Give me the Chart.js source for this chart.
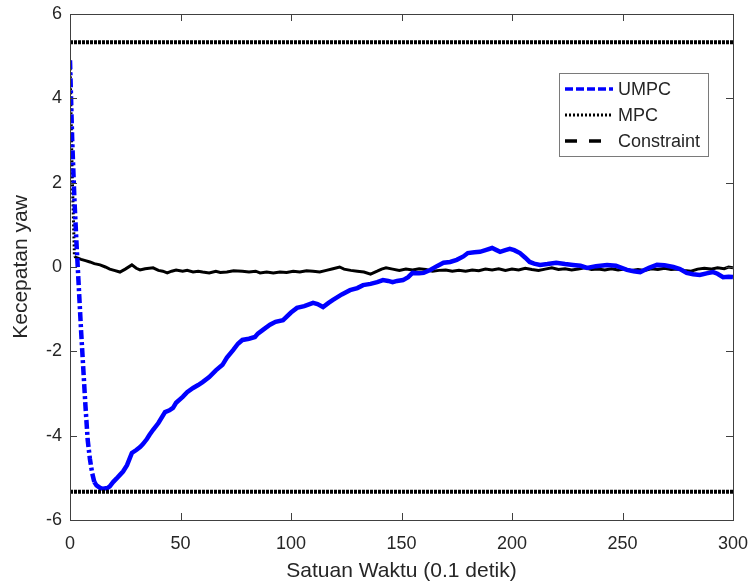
<!DOCTYPE html>
<html>
<head>
<meta charset="utf-8">
<script src="https://cdn.jsdelivr.net/npm/chart.js@4.4.0/dist/chart.umd.min.js"></script>
<style>
  html, body { margin: 0; padding: 0; background: #ffffff; }
  #wrap { width: 752px; height: 587px; }
</style>
</head>
<body>
<div id="wrap"><canvas id="yawChart" width="752" height="587"></canvas></div>
<script>
// UMPC (blue dash-dot)
var umpcX = [
  0, 1, 2, 3, 4, 5, 6, 7, 8, 9, 10, 11, 12, 13.6, 15, 17, 18, 19.5, 21, 22.6,
  24, 25.8, 28, 30, 31.7, 33, 34.8, 36, 37.6, 40, 43, 45, 46.6, 48, 51, 53,
  55.7, 58, 60, 63, 66, 69, 71, 73.8, 76, 78, 81, 83.7, 85, 87.3, 90.5, 93,
  96.4, 100, 102.7, 106, 110, 112, 114.5, 117, 119, 123, 126.7, 130, 132.6,
  136, 139, 141.6, 144, 146, 148, 150.7, 153, 155, 158, 160, 163, 166, 169,
  172, 175, 178, 180, 183, 185.5, 188, 191, 193, 194.6, 197, 199, 201, 203.6,
  206, 208, 210, 212.7, 216, 220, 224, 227.6, 231, 234, 238, 243, 247, 252,
  255, 258, 262, 265.6, 269, 273, 276, 279, 282, 285, 288, 291, 293, 295.5,
  298, 300,
];
var umpcY = [
  4.9, 3.0, 1.6, 0.5, -0.5, -1.5, -2.4, -3.3, -4.1, -4.55, -4.88, -5.1, -5.18,
  -5.24, -5.26, -5.24, -5.2, -5.1, -5.02, -4.93, -4.85, -4.7, -4.41, -4.34,
  -4.27, -4.2, -4.08, -3.98, -3.86, -3.7, -3.44, -3.4, -3.34, -3.22, -3.08,
  -2.97, -2.87, -2.8, -2.73, -2.61, -2.45, -2.32, -2.15, -1.97, -1.82, -1.73,
  -1.7, -1.66, -1.58, -1.49, -1.37, -1.3, -1.26, -1.08, -0.97, -0.93, -0.85,
  -0.88, -0.95, -0.85, -0.78, -0.65, -0.55, -0.5, -0.43, -0.4, -0.36, -0.31,
  -0.33, -0.36, -0.33, -0.31, -0.24, -0.14, -0.15, -0.14, -0.07, 0.02, 0.1,
  0.12, 0.17, 0.25, 0.33, 0.35, 0.36, 0.4, 0.45, 0.4, 0.36, 0.4, 0.43, 0.4,
  0.33, 0.22, 0.12, 0.08, 0.05, 0.07, 0.1, 0.07, 0.05, 0.03, -0.02, 0.02,
  0.05, 0.03, -0.07, -0.1, -0.12, -0.02, 0.05, 0.04, 0, -0.05, -0.14, -0.17,
  -0.19, -0.15, -0.12, -0.16, -0.24, -0.23, -0.24,
];

// MPC (black dotted)
var mpcX = [
  0, 1, 2, 3, 5, 7, 9, 11, 13.6, 16, 18, 20, 22.6, 25, 28, 30, 31.7, 34, 37.6,
  40, 42, 44, 46, 48, 51, 53, 55.7, 58, 60, 63, 66, 68, 71, 74, 78, 81, 84, 86,
  89, 92, 95, 98, 101, 104, 107, 110, 113, 116, 119, 122, 124, 127, 130, 133,
  136, 139, 141, 143, 146, 149, 152, 155, 158, 161, 164, 167, 170, 173, 176,
  179, 182, 185, 188, 191, 194, 197, 200, 203, 206, 209, 212, 215, 218, 221,
  224, 227, 230, 233, 236, 239, 242, 245, 248, 251, 254, 257, 260, 263, 266,
  269, 272, 275, 278, 281, 284, 287, 290, 293, 296, 298, 300,
];
var mpcY = [
  4.9, 2.2, 0.25, 0.22, 0.18, 0.15, 0.12, 0.08, 0.05, 0.0, -0.05, -0.08,
  -0.12, -0.05, 0.05, -0.03, -0.07, -0.04, -0.02, -0.08, -0.1, -0.14, -0.1,
  -0.07, -0.1, -0.08, -0.12, -0.1, -0.12, -0.14, -0.1, -0.13, -0.12, -0.09,
  -0.1, -0.12, -0.1, -0.14, -0.12, -0.14, -0.12, -0.13, -0.1, -0.12, -0.09,
  -0.1, -0.12, -0.08, -0.04, 0.0, -0.05, -0.08, -0.1, -0.12, -0.17, -0.1,
  -0.05, -0.02, -0.05, -0.08, -0.05, -0.07, -0.04, -0.06, -0.1, -0.08, -0.07,
  -0.1, -0.08, -0.1, -0.07, -0.09, -0.05, -0.07, -0.04, -0.08, -0.05, -0.07,
  -0.03, -0.06, -0.08, -0.05, -0.02, -0.06, -0.04, -0.07, -0.05, -0.02, -0.06,
  -0.05, -0.07, -0.04, -0.07, -0.05, -0.08, -0.06, -0.08, -0.04, -0.06, -0.03,
  -0.06, -0.05, -0.08, -0.1, -0.05, -0.03, -0.05, -0.02, -0.04, 0.0, -0.02,
];

// Constraint (upper and lower)
var constraintX = [0, 300];
var constraintUpper = [5.33, 5.33];
var constraintLower = [-5.33, -5.33];

var xTicks = [0, 50, 100, 150, 200, 250, 300];
var yTicks = [-6, -4, -2, 0, 2, 4, 6];

var legendNames = ["UMPC", "MPC", "Constraint"];

var axisColor = "#404040";
var textColor = "#262626";
var fontFamily = "'Liberation Sans', Arial, sans-serif";

function toPoints(xs, ys) {
  return xs.map(function (x, i) {
    return { x: x, y: ys[i] };
  });
}

// box + inward ticks, like matlab
const boxPlugin = {
  id: "boxTicks",
  afterDraw: function (chart) {
    var ctx = chart.ctx;
    var a = chart.chartArea;
    var xs = chart.scales.x;
    var ys = chart.scales.y;
    ctx.save();
    ctx.strokeStyle = axisColor;
    ctx.lineWidth = 1;
    ctx.strokeRect(a.left + 0.5, a.top + 0.5, a.right - a.left, a.bottom - a.top);
    ctx.beginPath();
    xTicks.forEach(function (t) {
      var px = Math.round(xs.getPixelForValue(t)) + 0.5;
      ctx.moveTo(px, a.bottom);
      ctx.lineTo(px, a.bottom - 7);
      ctx.moveTo(px, a.top);
      ctx.lineTo(px, a.top + 7);
    });
    yTicks.forEach(function (t) {
      var py = Math.round(ys.getPixelForValue(t)) + 0.5;
      ctx.moveTo(a.left, py);
      ctx.lineTo(a.left + 7, py);
      ctx.moveTo(a.right, py);
      ctx.lineTo(a.right - 7, py);
    });
    ctx.stroke();
    ctx.restore();
  },
};

// legend box inside the plot, top right
const legendPlugin = {
  id: "boxLegend",
  afterDraw: function (chart) {
    var ctx = chart.ctx;
    var bx = 559, by = 73, bw = 149, bh = 83;
    var rows = [89, 115, 141];
    var styles = [
      { color: "#0000ff", width: 3.5, dash: [8, 3] },
      { color: "#000000", width: 3, dash: [2, 2] },
      { color: "#000000", width: 3.5, dash: [12, 12] },
    ];
    ctx.save();
    ctx.fillStyle = "#ffffff";
    ctx.fillRect(bx, by, bw, bh);
    ctx.strokeStyle = "#7a7a7a";
    ctx.lineWidth = 1;
    ctx.strokeRect(bx + 0.5, by + 0.5, bw, bh);
    ctx.font = "18px " + fontFamily;
    ctx.textBaseline = "middle";
    ctx.textAlign = "left";
    legendNames.forEach(function (name, i) {
      var s = styles[i];
      ctx.beginPath();
      ctx.strokeStyle = s.color;
      ctx.lineWidth = s.width;
      ctx.setLineDash(s.dash);
      ctx.moveTo(565, rows[i]);
      ctx.lineTo(613, rows[i]);
      ctx.stroke();
      ctx.setLineDash([]);
      ctx.fillStyle = textColor;
      ctx.fillText(name, 618, rows[i] + 1);
    });
    ctx.restore();
  },
};

function yawChart() {
  var ctx = document.getElementById("yawChart").getContext("2d");

  const dataYaw = {
    datasets: [
      {
        label: "Constraint",
        data: toPoints(constraintX, constraintUpper),
        borderColor: "#000000",
        borderWidth: 4,
        borderDash: [3, 1],
        pointRadius: 0,
      },
      {
        label: "Constraint",
        data: toPoints(constraintX, constraintLower),
        borderColor: "#000000",
        borderWidth: 4,
        borderDash: [3, 1],
        pointRadius: 0,
      },
      {
        label: "UMPC",
        data: toPoints(umpcX, umpcY),
        borderColor: "#0000ff",
        borderWidth: 4.5,
        pointRadius: 0,
        tension: 0,
        segment: {
          borderDash: function (c) {
            return c.p0.parsed.x < 11 ? [9, 3, 3, 3] : undefined;
          },
        },
      },
      {
        label: "MPC",
        data: toPoints(mpcX, mpcY),
        borderColor: "#000000",
        borderWidth: 3,
        pointRadius: 0,
        tension: 0,
        segment: {
          borderDash: function (c) {
            return c.p0.parsed.x < 2 ? [2, 2] : undefined;
          },
        },
      },
    ],
  };

  const settingsYaw = {
    responsive: false,
    animation: false,
    layout: {
      padding: { left: 0, right: 19, top: 14, bottom: 0 },
    },
    plugins: {
      legend: { display: false },
      tooltip: { enabled: false },
    },
    scales: {
      x: {
        type: "linear",
        min: 0,
        max: 300,
        afterFit: function (scale) {
          scale.height = 67;
          scale.paddingLeft = 0;
          scale.paddingRight = 0;
        },
        afterBuildTicks: function (scale) {
          scale.ticks = xTicks.map(function (v) {
            return { value: v };
          });
        },
        grid: { display: false, drawTicks: false },
        border: { display: false },
        title: {
          display: true,
          text: "Satuan Waktu (0.1 detik)",
          color: textColor,
          padding: { top: 0, bottom: 3 },
          font: { size: 21, family: fontFamily },
        },
        ticks: {
          color: textColor,
          padding: 13,
          maxRotation: 0,
          font: { size: 18, family: fontFamily },
        },
      },
      y: {
        min: -6,
        max: 6,
        afterFit: function (scale) {
          scale.width = 70;
          scale.paddingTop = 0;
          scale.paddingBottom = 0;
        },
        afterBuildTicks: function (scale) {
          scale.ticks = yTicks.map(function (v) {
            return { value: v };
          });
        },
        grid: { display: false, drawTicks: false },
        border: { display: false },
        title: {
          display: true,
          text: "Kecepatan yaw",
          color: textColor,
          padding: { top: 9, bottom: 0 },
          font: { size: 21, family: fontFamily },
        },
        ticks: {
          color: textColor,
          padding: 8,
          font: { size: 18, family: fontFamily },
        },
      },
    },
  };

  var configYaw = {
    type: "line",
    data: dataYaw,
    options: settingsYaw,
    plugins: [boxPlugin, legendPlugin],
  };

  return new Chart(ctx, configYaw);
}

yawChart();
</script>
</body>
</html>
